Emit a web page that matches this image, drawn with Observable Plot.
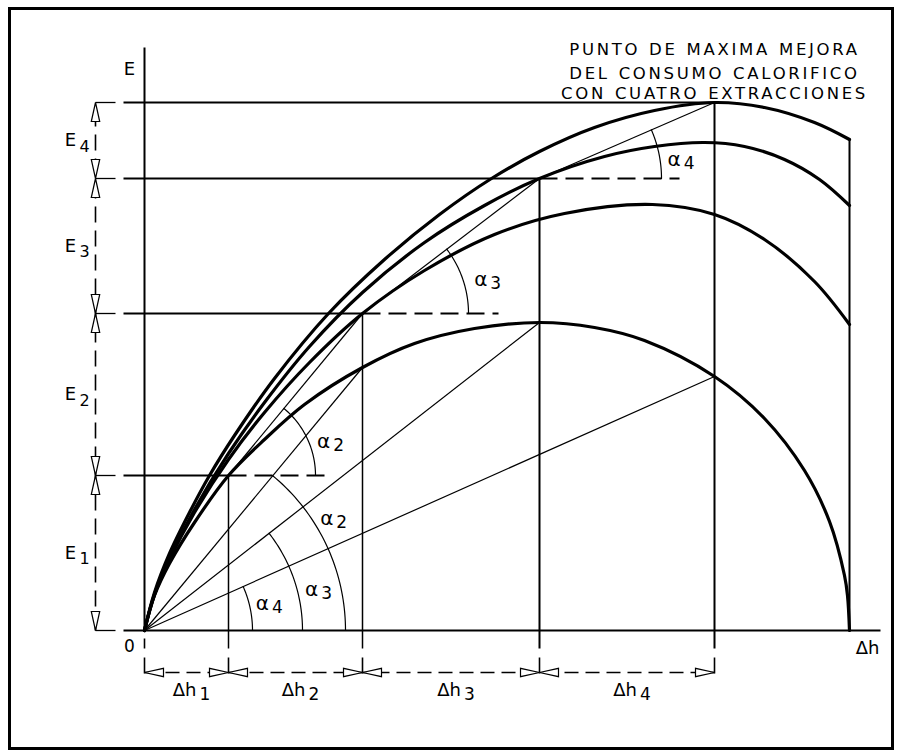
<!DOCTYPE html>
<html>
<head>
<meta charset="utf-8">
<script src="https://cdn.jsdelivr.net/npm/d3@7"></script>
<script src="https://cdn.jsdelivr.net/npm/@observablehq/plot@0.6"></script>
<style>
  html,body{margin:0;padding:0;background:#fff;}
  #wrap{position:relative;width:901px;height:755px;overflow:hidden;background:#fff;}
  #frame{position:absolute;left:8px;top:7px;width:886px;height:743px;border:3px solid #000;box-sizing:border-box;pointer-events:none;}
  svg{display:block;}
</style>
</head>
<body>
<div id="wrap"><div id="frame"></div></div>
<script>
// ---------------- data (drawing units) ----------------
const stages = ["1", "2", "3", "4"];
const dhCum = [84, 218, 395, 570];          // Δh1, Δh1+Δh2, Δh1+Δh2+Δh3, ... (optimum points)
const eCum = [155, 317, 452, 528];          // E1, E1+E2, E1+E2+E3, E1+..+E4
const dhMax = 705;                          // end of the Δh range
const eOnCurve1 = [155, 263, 308, 254];     // single-extraction curve read at dhCum
const dashedTo = [186, 354, 535];           // end of the dashed construction lines

// E(Δh) curves for 1, 2, 3 and 4 extractions
const curve1 = [[0,0],[10,35],[25,67],[50,108],[84,155],[120,191],[160,226],[218,263],[270,287],[330,302],[395,308],[450,303],[500,290],[570,254],[620,212],[660,160],[685,109],[700,55],[703,35],[705,0]];
const curve2 = [[0,0],[10,36],[25,71],[50,118],[84,171],[120,218],[165,268],[218,317],[280,360],[350,396],[420,417],[508,426],[570,416],[620,391],[670,349],[705,306]];
const curve3 = [[0,0],[10,36],[25,72],[50,121],[84,177],[120,228],[165,284],[218,338],[280,388],[340,425],[395,452],[460,474],[510,484],[560,488],[600,484],[640,471],[675,451],[705,425]];
const curve4 = [[0,0],[10,38],[25,77],[45,118],[65,155],[90,195],[130,252],[184,317],[240,371],[295,416],[347,452],[395,479],[450,503],[510,520],[570,528],[620,523],[670,508],[705,491]];

const titleLines = ["PUNTO DE MAXIMA MEJORA", "DEL CONSUMO CALORIFICO", "CON CUATRO EXTRACCIONES"];

// ---------------- layout / style (not data) ----------------
const FONT = "DejaVu Sans, sans-serif";
const L = {yTop: 583, xRight: 736, extL: -49, extR: -29, lineStart: -21,
           below: -18, originDash: -8, tickTop: -27, tickBot: -43, dimY: -42, eDimX: -49};
const titleOffsets = [53, 29, 9];
const arcOrigin = [{k: 1, r: 201, la: 31.6, lr: 214}, {k: 2, r: 158, la: 13.8, lr: 172}, {k: 3, r: 108, la: 12.9, lr: 121}];
const arcChord  = [{k: 1, r: 87, la: 19.7, lr: 101}, {k: 2, r: 106, la: 16, lr: 123}, {k: 3, r: 122, la: 8, lr: 136}];

const seg = (x1, y1, x2, y2) => ({x1, y1, x2, y2});
const curves = [curve1, curve2, curve3, curve4].flatMap((c, i) => c.map(([x, y]) => ({x, y, id: i})));
const endY = curve4[curve4.length - 1][1];

// solid construction lines
const axisSegs = [seg(0, 0, 0, L.yTop), seg(L.lineStart, 0, L.xRight, 0)];
const eSolid = eCum.map((e, i) => seg(L.lineStart, e, dhCum[i], e));
const eShort = [0, ...eCum].map(e => seg(L.extL, e, L.extR, e));
const vertThin = dhCum.slice(0, 2).map((x, i) => seg(x, eCum[i], x, L.below));
const vertBold = dhCum.slice(2).map((x, i) => seg(x, eCum[i + 2], x, L.below));
const endLine = [seg(dhMax, endY, dhMax, 0)];
const lowTicks = [seg(0, L.originDash, 0, L.below), ...[0, ...dhCum].map(x => seg(x, L.tickTop, x, L.tickBot))];
const eDashed = dashedTo.map((x, i) => seg(dhCum[i], eCum[i], x, eCum[i]));
const eDim = [seg(L.eDimX, 0, L.eDimX, eCum[3])];
const hDim = [seg(0, L.dimY, dhCum[3], L.dimY)];
// α lines
const originLines = [1, 2, 3].map(i => seg(0, 0, dhCum[i], eOnCurve1[i]));
const chords = [1, 2, 3].map(i => seg(dhCum[i - 1], eCum[i - 1], dhCum[i], eCum[i]));

// arcs
function arc(cx, cy, r, a1, id) {
  return d3.range(41).map(j => { const a = a1 * j / 40; return {x: cx + r * Math.cos(a), y: cy + r * Math.sin(a), id}; });
}
const arcs = [];
const alphaLabels = [];
arcOrigin.forEach(({k, r, la, lr}) => {
  const a = Math.atan2(eOnCurve1[k], dhCum[k]);
  arcs.push(...arc(0, 0, r, a, "o" + k));
  const t = la * Math.PI / 180;
  alphaLabels.push({x: lr * Math.cos(t), y: lr * Math.sin(t), s: stages[k]});
});
arcChord.forEach(({k, r, la, lr}) => {
  const cx = dhCum[k - 1], cy = eCum[k - 1];
  const a = Math.atan2(eCum[k] - cy, dhCum[k] - cx);
  arcs.push(...arc(cx, cy, r, a, "c" + k));
  const t = la * Math.PI / 180;
  alphaLabels.push({x: cx + lr * Math.cos(t), y: cy + lr * Math.sin(t), s: stages[k]});
});

// arrowheads (open triangles, tip at the point)
const arrowSym = {draw(ctx) { ctx.moveTo(0, 0); ctx.lineTo(-19, -4.2); ctx.lineTo(-19, 4.2); ctx.closePath(); }};
const eArrows = [{x: L.eDimX, y: eCum[3], r: -90}, {x: L.eDimX, y: 0, r: 90}];
eCum.slice(0, 3).forEach(e => { eArrows.push({x: L.eDimX, y: e, r: 90}, {x: L.eDimX, y: e, r: -90}); });
const hArrows = [{x: 0, y: L.dimY, r: 180}, {x: dhCum[3], y: L.dimY, r: 0}];
dhCum.slice(0, 3).forEach(x => { hArrows.push({x, y: L.dimY, r: 0}, {x, y: L.dimY, r: 180}); });

// labels
const eLabels = eCum.map((e, i) => ({y: (e + (i ? eCum[i - 1] : 0)) / 2, s: stages[i]}));
const hLabels = dhCum.map((x, i) => ({x: (x + (i ? dhCum[i - 1] : 0)) / 2, s: stages[i]}));

const lk = (data, o) => Plot.link(data, {x1: "x1", y1: "y1", x2: "x2", y2: "y2", stroke: "black", ...o});

const chart = Plot.plot({
  width: 901, height: 755,
  marginLeft: 144, marginRight: 52, marginTop: 102, marginBottom: 125,
  x: {domain: [0, dhMax], axis: null},
  y: {domain: [0, eCum[3]], axis: null},
  style: {background: "transparent", overflow: "visible", fontFamily: FONT},
  marks: [
    lk(axisSegs, {strokeWidth: 2}),
    lk(eSolid, {strokeWidth: 2}),
    lk(eShort, {strokeWidth: 1.3}),
    lk(vertThin, {strokeWidth: 1.5}),
    lk(vertBold, {strokeWidth: 2}),
    lk(endLine, {strokeWidth: 2}),
    lk(lowTicks, {strokeWidth: 1.6}),
    lk(eDashed, {strokeWidth: 2, strokeDasharray: "18,8"}),
    lk(eDim, {strokeWidth: 1.6, strokeDasharray: "16,8"}),
    lk(hDim, {strokeWidth: 1.6, strokeDasharray: "14,7"}),
    lk(originLines, {strokeWidth: 1.2}),
    lk(chords, {strokeWidth: 1.2}),
    Plot.line(arcs, {x: "x", y: "y", z: "id", stroke: "black", strokeWidth: 1.2}),
    Plot.line(curves, {x: "x", y: "y", z: "id", stroke: "black", strokeWidth: 3.2, curve: "catmull-rom"}),
    Plot.dot(eArrows, {x: "x", y: "y", rotate: "r", symbol: arrowSym, fill: "white", stroke: "black", strokeWidth: 1.2}),
    Plot.dot(hArrows, {x: "x", y: "y", rotate: "r", symbol: arrowSym, fill: "white", stroke: "black", strokeWidth: 1.2}),
    // α labels
    Plot.text(alphaLabels, {x: "x", y: "y", text: () => "α", fontSize: 20, fill: "black", lineAnchor: "middle"}),
    Plot.text(alphaLabels, {x: "x", y: "y", text: "s", dx: 15, dy: 4, fontSize: 17, fill: "black", lineAnchor: "middle"}),
    // E labels
    Plot.text(eLabels, {x: () => L.eDimX, y: "y", text: () => "E", dx: -25, dy: 0, fontSize: 18, fill: "black", lineAnchor: "middle"}),
    Plot.text(eLabels, {x: () => L.eDimX, y: "y", text: "s", dx: -11, dy: 6, fontSize: 16, fill: "black", lineAnchor: "middle"}),
    // Δh labels
    Plot.text(hLabels, {x: "x", y: () => L.dimY, text: () => "Δh", dx: 10, dy: 18, textAnchor: "end", fontSize: 18, fill: "black", lineAnchor: "middle"}),
    Plot.text(hLabels, {x: "x", y: () => L.dimY, text: "s", dx: 13, dy: 22, textAnchor: "start", fontSize: 17, fill: "black", lineAnchor: "middle"}),
    // axis labels
    Plot.text(["E"], {x: () => 0, y: () => L.yTop, text: d => d, dx: -15, dy: 22, fontSize: 18, fill: "black", lineAnchor: "middle"}),
    Plot.text(["0"], {x: () => 0, y: () => 0, text: d => d, dx: -15, dy: 16, fontSize: 17, fill: "black", lineAnchor: "middle"}),
    Plot.text(["Δh"], {x: () => dhMax, y: () => 0, text: d => d, dx: 18, dy: 18, fontSize: 18, fill: "black", lineAnchor: "middle"}),
    // title
    Plot.text(titleLines.map((t, i) => ({t, o: titleOffsets[i]})), {x: () => dhCum[3], y: d => eCum[3] + d.o, text: "t", dx: 0, fontSize: 16.5, fill: "black", lineAnchor: "middle"})
  ]
});
document.getElementById("wrap").prepend(chart);
d3.select(chart).selectAll("text")
  .filter(function() { return titleLines.includes(this.textContent); })
  .style("letter-spacing", "2.7px").style("word-spacing", "1px");
</script>
</body>
</html>
